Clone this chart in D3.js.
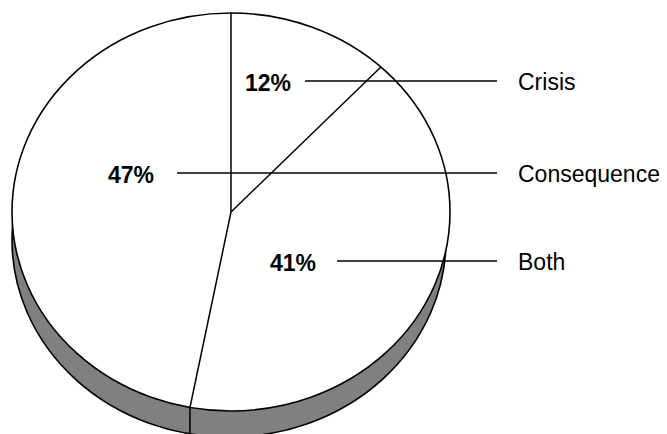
<!DOCTYPE html>
<html>
<head>
<meta charset="utf-8">
<script src="https://cdn.jsdelivr.net/npm/d3@7"></script>
<style>
  html, body { margin: 0; padding: 0; background: #fff; }
  svg { display: block; }
  text { font-family: "Liberation Sans", Arial, sans-serif; }
</style>
</head>
<body>
<svg id="chart" width="667" height="434"></svg>
<script>
// ---- data ----
const categories = ["Crisis", "Both", "Consequence"];   // clockwise from top
const values = [12, 41, 47];
const pctLabels = ["12%", "41%", "47%"];
const legendOrder = ["Crisis", "Consequence", "Both"];

// ---- layout ----
const topFace = { cx: 231, cy: 212, rx: 219, ry: 199 };
const botFace = { cx: 229, cy: 240, rx: 217, ry: 197 };
const labelLayout = {
  "Crisis":      { y: 81,  pctX: 245, lineX0: 305 },
  "Consequence": { y: 173, pctX: 108, lineX0: 177 },
  "Both":        { y: 261, pctX: 270, lineX0: 337 }
};
const lineX1 = 497, legendX = 518, fontSize = 23;

const svg = d3.select("#chart");

// bottom (side) ellipse in grey
svg.append("ellipse")
  .attr("cx", botFace.cx).attr("cy", botFace.cy)
  .attr("rx", botFace.rx).attr("ry", botFace.ry)
  .attr("fill", "#808080").attr("stroke", "#000").attr("stroke-width", 1.6);

// pie angles
const pie = d3.pie().sort(null).value(d => d)(values);
const proj = (e, a) => [e.cx + e.rx * Math.sin(a), e.cy - e.ry * Math.cos(a)];

// side edge lines for slice boundaries on the front
pie.forEach(p => {
  const a = p.endAngle;
  const [x0, y0] = proj(topFace, a);
  if (Math.cos(a) < -0.5) {
    const dx = (x0 - botFace.cx) / botFace.rx;
    const yb = botFace.cy + botFace.ry * Math.sqrt(Math.max(0, 1 - dx * dx));
    svg.append("line")
      .attr("x1", x0).attr("y1", y0).attr("x2", x0).attr("y2", yb)
      .attr("stroke", "#000").attr("stroke-width", 1.6);
  }
});

// top face
svg.append("ellipse")
  .attr("cx", topFace.cx).attr("cy", topFace.cy)
  .attr("rx", topFace.rx).attr("ry", topFace.ry)
  .attr("fill", "#fff").attr("stroke", "#000").attr("stroke-width", 1.6);

// slice boundaries on top face
pie.forEach(p => {
  const [x, y] = proj(topFace, p.startAngle);
  svg.append("line")
    .attr("x1", topFace.cx).attr("y1", topFace.cy).attr("x2", x).attr("y2", y)
    .attr("stroke", "#000").attr("stroke-width", 1.5);
});

// labels
categories.forEach((c, i) => {
  const L = labelLayout[c];
  svg.append("line")
    .attr("x1", L.lineX0).attr("y1", L.y).attr("x2", lineX1).attr("y2", L.y)
    .attr("stroke", "#000").attr("stroke-width", 1.3);
  svg.append("text")
    .attr("x", L.pctX).attr("y", L.y + 10)
    .attr("font-size", fontSize).attr("font-weight", "bold")
    .text(pctLabels[i]);
});
legendOrder.forEach(c => {
  const L = labelLayout[c];
  svg.append("text")
    .attr("x", legendX).attr("y", L.y + 9)
    .attr("font-size", fontSize)
    .text(c);
});
</script>
</body>
</html>
